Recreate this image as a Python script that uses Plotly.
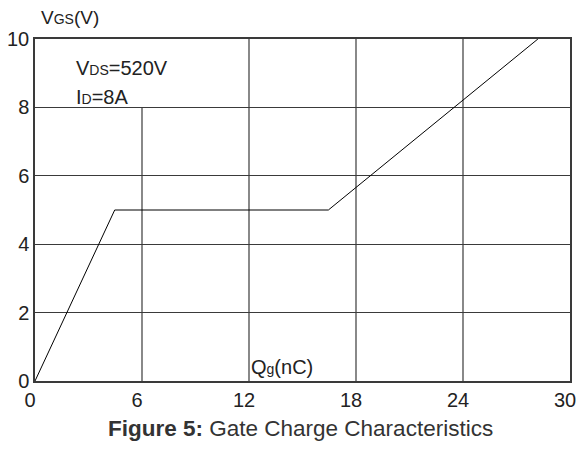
import plotly.graph_objects as go

# Data
qg = [0, 4.47, 16.45, 28.2]
vgs = [0, 5, 5, 10]
x_ticks = [0, 6, 12, 18, 24, 30]
y_ticks = [0, 2, 4, 6, 8, 10]
x_grid = [6, 12, 18, 24]
x_grid_top = [8, 10, 10, 10]

FONT = "Liberation Sans, Arial, sans-serif"
TXT = "#222222"
GRID = "#3a3a3a"

fig = go.Figure()
fig.add_trace(go.Scatter(x=qg, y=vgs, mode="lines",
                         line=dict(color="black", width=1), showlegend=False,
                         hoverinfo="skip"))

for xv, top in zip(x_grid, x_grid_top):
    fig.add_shape(type="line", x0=xv, x1=xv, y0=0, y1=top, xref="x", yref="y",
                  line=dict(color=GRID, width=1.2), layer="below")

fig.update_xaxes(range=[0, 30], tickvals=x_ticks, ticktext=[str(v) for v in x_ticks],
                 showgrid=False, zeroline=False, showline=True, mirror=True,
                 linecolor=GRID, linewidth=1.5, ticks="", automargin=False,
                 ticklabeloverflow="allow", ticklabelshift=-5,
                 tickfont=dict(family=FONT, size=20, color=TXT))
fig.update_yaxes(range=[0, 10], tickvals=y_ticks, ticktext=[str(v) for v in y_ticks],
                 showgrid=True, gridcolor=GRID, gridwidth=1.2, zeroline=False,
                 showline=True, mirror=True, linecolor=GRID, linewidth=1.5, ticks="",
                 automargin=False, ticklabeloverflow="allow",
                 tickfont=dict(family=FONT, size=20, color=TXT))

small = "<span style='font-size:14px'>%s</span>"
anns = [
    dict(x=2.2, y=9.15, text="V" + small % "DS" + "=520V"),
    dict(x=2.2, y=8.3, text="I" + small % "D" + "=8A"),
    dict(x=12.0, y=0.42, text="Q" + small % "g" + "(nC)"),
]
for a in anns:
    fig.add_annotation(xref="x", yref="y", xanchor="left", yanchor="middle",
                       showarrow=False, font=dict(family=FONT, size=20, color=TXT), **a)

fig.add_annotation(xref="paper", yref="paper", x=0.008, y=1.064, xanchor="left",
                   yanchor="middle", showarrow=False,
                   text="V" + small % "GS" + "(V)",
                   font=dict(family=FONT, size=19, color=TXT))

fig.add_annotation(xref="paper", yref="paper", x=0.497, y=-0.14, xanchor="center",
                   yanchor="middle", showarrow=False,
                   text="<b>Figure 5:</b> Gate Charge Characteristics",
                   font=dict(family=FONT, size=22.5, color="#333333"))

fig.update_layout(width=579, height=457, margin=dict(l=35, r=9, t=39, b=76),
                  plot_bgcolor="white", paper_bgcolor="white")
fig.write_html("out.html")
